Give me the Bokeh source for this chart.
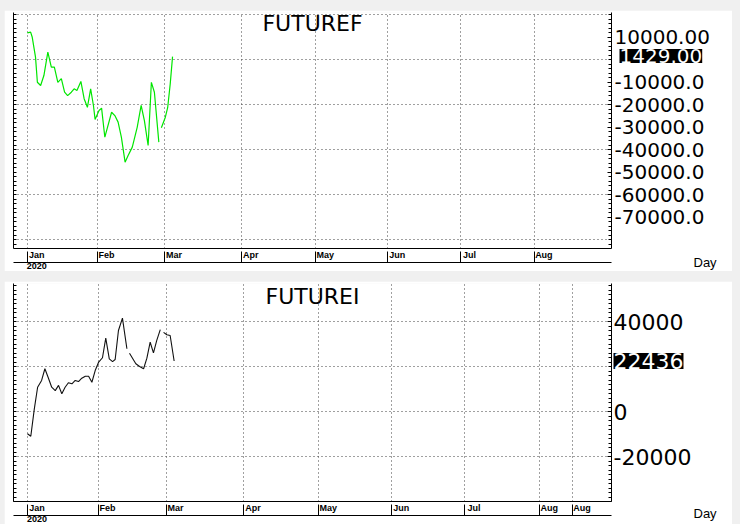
from bokeh.plotting import figure
from bokeh.models import LinearAxis, FixedTicker, Range1d, Title
from bokeh.layouts import column
from bokeh.embed import file_html
from bokeh.resources import INLINE

nan = float("nan")

# ---------------- data ----------------
days_f = [0.0, 1.4, 2.1, 3.5, 4.3, 5.7, 7.1, 8.8, 10.3, 11.6,
          13.1, 14.6, 16.0, 17.3, 18.9, 20.1, 21.3, 23.0, 24.4, 25.8,
          27.2, 28.4, 29.1, 30.8, 31.9, 33.3, 36.2, 37.6, 39.0, 40.4,
          42.0, 43.3, 45.1, 47.2, 48.9, 50.3, 51.9, 53.3, 54.6, 56.5,
          nan, 57.6, 59.3, 60.3, 61.4, 62.4]
futuref = [12000, 12300, 10000, 1200, -10000, -11400, -7000, 3400, -3300, -3300,
           -10000, -8400, -14400, -15900, -14400, -12900, -13600, -9600, -17300, -21100,
           -12900, -20300, -26500, -22500, -21500, -34400, -23300, -24800, -27700, -34400,
           -45500, -42500, -38800, -30000, -20300, -27000, -38100, -10000, -14400, -36600,
           nan, -30200, -25500, -21300, -10700, 1429]

days_i = [0.0, 1.4, 2.9, 4.3, 6.0, 7.4, 8.8, 10.3, 11.8, 13.2,
          14.6, 16.0, 17.4, 18.9, 20.3, 21.7, 23.1, 24.6, 26.0, 27.4,
          28.8, 30.2, 31.9, 33.3, 34.8, 36.2, 37.3, 38.7, 40.4, 42.3,
          nan, 43.4, 46.1, 47.7, 49.4, 50.8, 52.2, 53.6, 55.0, 56.5,
          nan, 57.9, 59.3, 60.7, 62.4]
futurei = [-9900, -11000, 1200, 10800, 13800, 19000, 15100, 10800, 9300, 11600,
           7900, 10800, 12800, 12300, 13800, 13300, 14800, 15700, 15700, 13000,
           18200, 21800, 23900, 32600, 23400, 22200, 23100, 36000, 41500, 27900,
           nan, 25900, 21200, 20000, 19000, 23700, 30800, 26100, 31600, 36400,
           nan, 35200, 34100, 33800, 22436]

month_ticks_top = [0, 30, 59, 92, 124, 155, 186, 218]
month_labels_top = ["Jan", "Feb", "Mar", "Apr", "May", "Jun", "Jul", "Aug"]
month_ticks_bot = [0, 30, 59, 92, 124, 155, 186, 218, 232]
month_labels_bot = ["Jan", "Feb", "Mar", "Apr", "May", "Jun", "Jul", "Aug", "Aug"]
year_label = "2020"
unit_label = "Day"

f_ticks = [10000, -10000, -20000, -30000, -40000, -50000, -60000, -70000]
f_tick_labels = ["10000.00", "-10000.0", "-20000.0", "-30000.0", "-40000.0",
                 "-50000.0", "-60000.0", "-70000.0"]
f_grid = [20000, 0, -20000, -40000, -60000, -80000]
f_last_label = "1429.00"

i_ticks = [40000, 0, -20000]
i_tick_labels = ["40000", "0", "-20000"]
i_grid = [40000, 20000, 0, -20000]
i_last_label = "22436"

# ---------------- layout constants ----------------
PX_PER_DAY = 2.35
X0 = -5.96
LABEL_SHIFT = 4
FIG_W = 728
MARGIN = (10, 8, 0, 4)      # top, right, bottom, left (grey window frame)
MB_LEFT = 9
AXES_H = 23                 # height taken by the two bottom axes


def panel(days, vals, color, lw, title, height, mb_top, mb_bottom, mb_right,
          y_lo, y_hi, mticks, mlabels, yticks, ylabels, ygrid, minor_step,
          lab_px, lab_standoff, last_label, title_bottom, box_left, day_top):
    frame_w = FIG_W - MB_LEFT - mb_right
    frame_h = height - mb_top - mb_bottom
    x_end = X0 + frame_w / PX_PER_DAY
    upp = (y_hi - y_lo) / frame_h
    lab_size = "%dpx" % lab_px
    p = figure(width=FIG_W, height=height, x_range=Range1d(X0, x_end),
               y_range=Range1d(y_lo, y_hi), y_axis_location="right",
               output_backend="svg", toolbar_location=None, title_location=None,
               min_border_left=MB_LEFT, min_border_right=mb_right,
               min_border_top=mb_top, min_border_bottom=mb_bottom, margin=MARGIN)
    p.outline_line_color = None
    p.border_fill_color = "white"

    # grids
    for g, t in ((p.xgrid[0], mticks), (p.ygrid[0], ygrid)):
        g.ticker = FixedTicker(ticks=t)
        g.grid_line_color = "#404040"
        g.grid_line_dash = "1 3"

    minor = list(range(int(y_lo) // minor_step * minor_step, int(y_hi) + 1, minor_step))

    # right axis
    ra = p.yaxis[0]
    ra.ticker = FixedTicker(ticks=yticks, minor_ticks=minor)
    ra.major_label_overrides = {t: l for t, l in zip(yticks, ylabels)}
    ra.major_tick_in = 4
    ra.major_tick_out = 0
    ra.minor_tick_in = 3
    ra.minor_tick_out = 0
    ra.axis_line_color = "black"
    ra.major_tick_line_color = "black"
    ra.minor_tick_line_color = "black"
    ra.major_label_standoff = lab_standoff
    ra.major_label_text_font = "DejaVu Sans"
    ra.major_label_text_font_size = lab_size
    ra.major_label_text_color = "black"

    # left axis (ticks only)
    la = LinearAxis(ticker=FixedTicker(ticks=[], minor_ticks=minor),
                    major_tick_in=0, major_tick_out=0, minor_tick_in=3, minor_tick_out=0,
                    major_label_text_font_size="0px", major_label_standoff=0,
                    axis_line_color="black", minor_tick_line_color="black")
    p.add_layout(la, "left")

    # month-label axis (labels only)
    lab_pos = [m + LABEL_SHIFT for m in mticks]
    xa = p.xaxis[0]
    xa.ticker = FixedTicker(ticks=lab_pos)
    xa.major_label_overrides = {pos: lab for pos, lab in zip(lab_pos, mlabels)}
    xa.major_tick_in = 0
    xa.major_tick_out = 0
    xa.minor_tick_in = 0
    xa.minor_tick_out = 0
    xa.axis_line_color = "black"
    xa.major_label_standoff = 1
    xa.major_label_text_font = "Liberation Sans"
    xa.major_label_text_font_style = "bold"
    xa.major_label_text_font_size = "9px"
    xa.major_label_text_color = "black"

    # year axis: its line closes the month row, its inward minor ticks divide months
    ya = LinearAxis(ticker=FixedTicker(ticks=[LABEL_SHIFT], minor_ticks=mticks),
                    major_label_overrides={LABEL_SHIFT: year_label},
                    major_tick_in=0, major_tick_out=0, minor_tick_in=11, minor_tick_out=0,
                    minor_tick_line_color="black",
                    major_label_standoff=0, axis_line_color="black",
                    major_label_text_font="Liberation Sans",
                    major_label_text_font_style="bold",
                    major_label_text_font_size="9px",
                    major_label_text_color="black")
    p.add_layout(ya, "below")

    # series
    p.line(days, vals, line_color=color, line_width=lw)

    # chart name, in the top side panel, pushed down into the plot area
    p.add_layout(Title(text=title, align="center", vertical_align="bottom",
                       standoff=int(round(-2 * title_bottom)),
                       text_font="DejaVu Sans", text_font_size="22px",
                       text_font_style="normal", text_color="black"), "above")

    # last value box in the top side panel (so it is not clipped to the frame);
    # the negative standoff reserves no space and moves it down to the value
    box_center = (y_hi - vals[-1]) / upp          # px below frame top
    h_box = lab_px * 1.164
    p.add_layout(Title(text=last_label, align="left", offset=box_left - 13,
                       vertical_align="bottom",
                       standoff=int(round(-2 * (box_center + h_box / 2 - 5))),
                       text_font="DejaVu Sans", text_font_size=lab_size,
                       text_font_style="normal", text_color="white",
                       background_fill_color="black"), "above")

    # unit label below the axes, same trick (moved up beside the month row)
    p.add_layout(Title(text=unit_label, align="left", offset=693 - 13,
                       vertical_align="top",
                       standoff=int(round(2 * (day_top - AXES_H))),
                       text_font="Liberation Sans", text_font_size="13px",
                       text_font_style="normal", text_color="black"), "below")
    return p


top = panel(days_f, futuref, "#00e600", 1.2, "FUTUREF", 261, 2, 23, 115,
            -83860, 21020, month_ticks_top, month_labels_top,
            f_ticks, f_tick_labels, f_grid, 2000, 20, 3, f_last_label, 23.5, 619, 6)
bot = panel(days_i, futurei, "#111111", 1.1, "FUTUREI", 243, 2, 23, 121,
            -40000, 56900, month_ticks_bot, month_labels_bot,
            i_ticks, i_tick_labels, i_grid, 2000, 22, 2, i_last_label, 25.5, 613, 4)

layout = column(top, bot, spacing=0, styles={"background-color": "#f0f0f0"})
open("out.html", "w").write(file_html(layout, INLINE))
